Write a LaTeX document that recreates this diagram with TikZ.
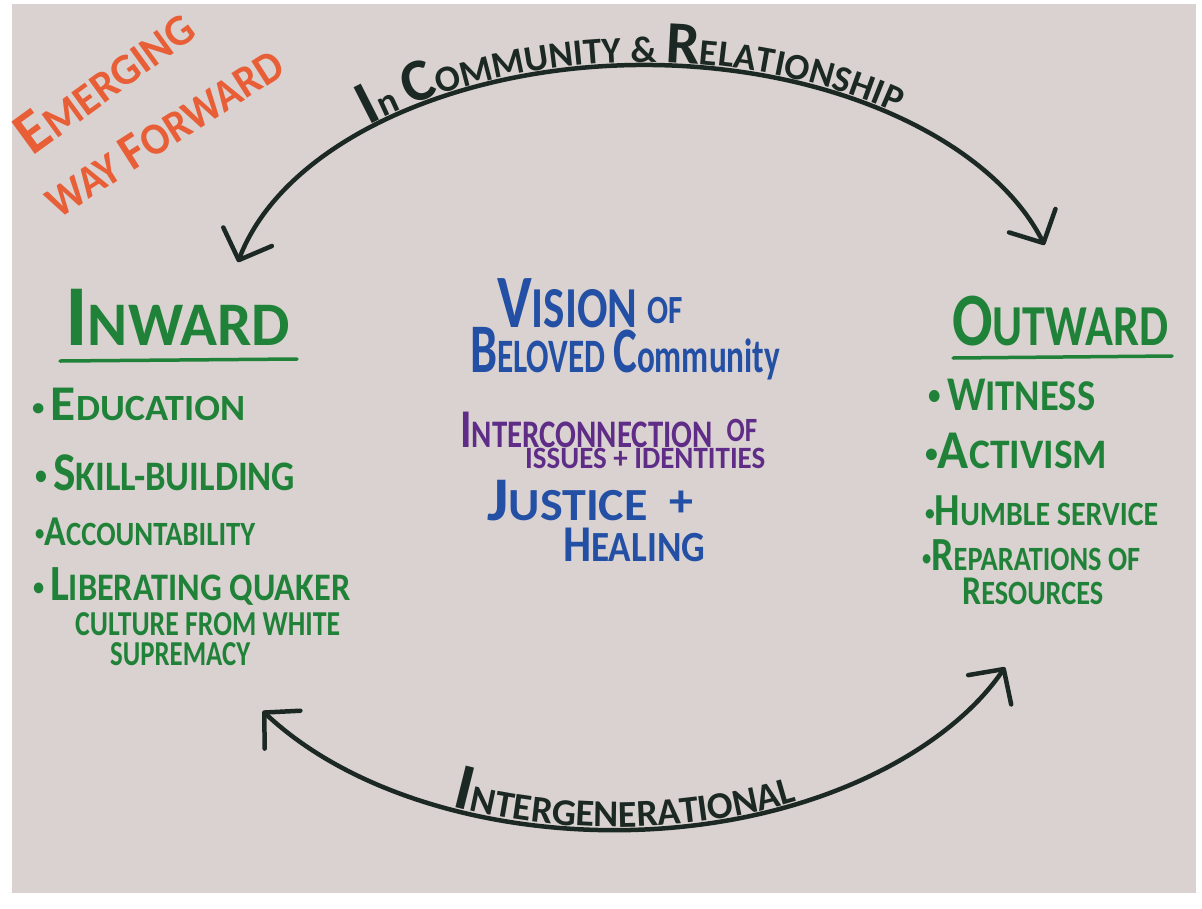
\documentclass[tikz,border=0pt]{standalone}
\usepackage{fontspec}
\usepackage{graphicx}
\setmainfont{Carlito}
\usetikzlibrary{arrows.meta,decorations.text}
\definecolor{paper}{RGB}{217,210,208}
\definecolor{ink}{RGB}{28,40,36}
\definecolor{grn}{RGB}{32,130,56}
\definecolor{blu}{RGB}{35,80,165}
\definecolor{pur}{RGB}{95,45,135}
\definecolor{org}{RGB}{232,95,55}
\newcommand\fs[1]{\fontsize{#1}{#1}\selectfont}
\newcommand\Bg[2][1.35]{\scalebox{#1}{#2}}
\newcommand\fitw[2]{\resizebox{#1pt}{\height}{#2}}
\newcommand\bul{\raisebox{0.12em}{\scalebox{0.65}{•}}}
\begin{document}
\begin{tikzpicture}[x=1pt,y=-1pt,
  every node/.style={inner sep=0pt},
  gtxt/.style={text=grn, anchor=base west},
  ctxt/.style={anchor=base west},
  otxt/.style={text=org, anchor=center},
  uline/.style={draw=grn, line width=3.5pt, line cap=round},
  arcline/.style={draw=ink, line width=4.5pt, line cap=round,
    arrows={Straight Barb[length=25pt,width=52pt,round]-Straight Barb[length=25pt,width=52pt,round]}}]
\useasboundingbox (0,0) rectangle (1202,908);
\fill[white] (0,0) rectangle (1202,908);
\fill[paper] (12,4) rectangle (1196,893);

% title
\node[otxt,font=\fs{44}\bfseries,rotate=36] (em) at (104,80) {\fitw{205}{\Bg[1.4]{E}MERGING}};
\node[otxt,font=\fs{45}\bfseries,rotate=32.5] (way) at (164,132) {\fitw{272}{WAY \Bg[1.15]{F}ORWARD}};

% arcs
\coordinate (tc) at (645,320);
\coordinate (bc) at (615,560);
\draw[arcline] (tc) ++(-166.9:418 and 255) arc[start angle=-166.9,end angle=-17.1,x radius=418,y radius=255];
\draw[arcline] (bc) ++(146:425 and 270) arc[start angle=146,end angle=23.4,x radius=425,y radius=270];
\path[decorate,decoration={text along path,text color=ink,text align=center,raise=3pt,
  text={|\fs{62}\bfseries|I|\fs{37}\bfseries|n |\fs{60}\bfseries|C|\fs{37}\bfseries|OMMUNITY {\&} |\fs{60}\bfseries|R|\fs{37}\bfseries|ELATIONSHIP}}]
  (tc) ++(-150:418 and 255) arc[start angle=-150,end angle=-35,x radius=418,y radius=255];
\path[decorate,decoration={text along path,text color=ink,text align=center,raise=3pt,
  text={|\fs{66}\bfseries|I|\fs{38}\bfseries|NTERGENERATIONAL}}]
  (bc) ++(125:425 and 270) arc[start angle=125,end angle=52,x radius=425,y radius=270];

% inward
\node[gtxt,font=\fs{62}\bfseries] (inward) at (65,345) {\fitw{225}{\Bg[1.4]{I}NWARD}};
\coordinate (ul1a) at (60,361); \coordinate (ul1b) at (297,359);
\draw[uline] (ul1a) -- (ul1b);
\node[gtxt,font=\fs{37}\bfseries] (edu) at (32,420) {\fitw{213}{\bul\,\Bg{E}DUCATION}};
\node[gtxt,font=\fs{42}\bfseries] (skill) at (35,490) {\fitw{260}{\bul\,\Bg[1.3]{S}KILL-BUILDING}};
\node[gtxt,font=\fs{34}\bfseries] (acc) at (35,545) {\fitw{220}{\bul\Bg[1.25]{A}CCOUNTABILITY}};
\node[gtxt,font=\fs{39}\bfseries] (lib) at (33,600) {\fitw{317}{\bul\,\Bg[1.3]{L}IBERATING QUAKER}};
\node[gtxt,font=\fs{35}\bfseries] (cul) at (75,635) {\fitw{265}{CULTURE FROM WHITE}};
\node[gtxt,font=\fs{35}\bfseries] (sup) at (110,665) {\fitw{140}{SUPREMACY}};

% outward
\node[gtxt,font=\fs{58}\bfseries] (outward) at (952,345) {\fitw{216}{\Bg[1.3]{O}UTWARD}};
\coordinate (ul2a) at (953,358); \coordinate (ul2b) at (1172,356);
\draw[uline] (ul2a) -- (ul2b);
\node[gtxt,font=\fs{44}\bfseries] (wit) at (928,410) {\fitw{167}{\bul\,\Bg[1.1]{W}ITNESS}};
\node[gtxt,font=\fs{42}\bfseries] (act) at (925,468) {\fitw{182}{\bul\Bg[1.3]{A}CTIVISM}};
\node[gtxt,font=\fs{34}\bfseries] (hum) at (925,525) {\fitw{233}{\bul\Bg[1.35]{H}UMBLE SERVICE}};
\node[gtxt,font=\fs{34}\bfseries] (rep) at (922,570) {\fitw{218}{\bul\Bg[1.4]{R}EPARATIONS OF}};
\node[gtxt,font=\fs{34}\bfseries] (res) at (962,604) {\fitw{141}{\Bg[1.2]{R}ESOURCES}};

% centre
\node[ctxt,text=blu,font=\fs{58}\bfseries] (vis) at (497,327) {\fitw{186}{\Bg[1.3]{V}ISION {\fs{40}\raisebox{4pt}{OF}}}};
\node[ctxt,text=blu,font=\fs{48}\bfseries] (bel) at (470,372) {\fitw{310}{\Bg[1.45]{B}ELOVED \Bg[1.35]{C}ommunity}};
\node[ctxt,text=pur,font=\fs{39}\bfseries] (int) at (460,447) {\fitw{297}{\Bg[1.4]{I}NTERCONNECTION\ \ {\fs{34}\raisebox{6pt}{OF}}}};
\node[ctxt,text=pur,font=\fs{31}\bfseries] (iss) at (525,468) {\fitw{240}{ISSUES + IDENTITIES}};
\node[ctxt,text=blu,font=\fs{46}\bfseries] (jus) at (487,520) {\fitw{206}{\Bg[1.35]{J}USTICE\ \ \raisebox{4pt}{+}}};
\node[ctxt,text=blu,font=\fs{43}\bfseries] (hea) at (563,561) {\fitw{142}{\Bg[1.2]{H}EALING}};
\end{tikzpicture}
\end{document}
